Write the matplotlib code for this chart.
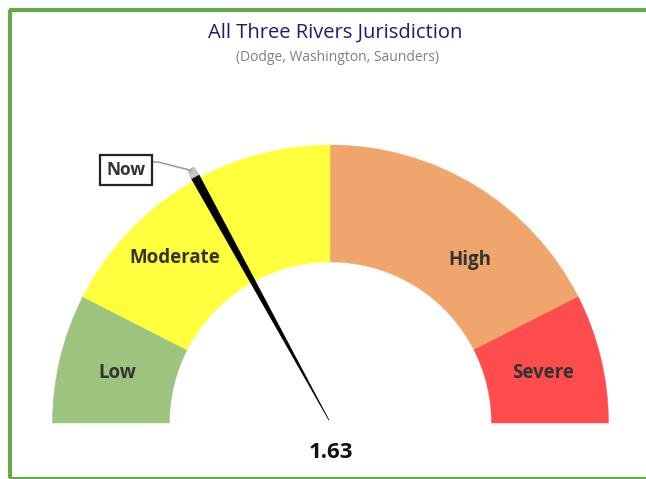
import numpy as np
import matplotlib
matplotlib.use("Agg")
import matplotlib.pyplot as plt
from matplotlib.patches import Wedge, Polygon

# gauge data
categories = ["Low", "Moderate", "High", "Severe"]
band_share = [0.15, 0.35, 0.35, 0.15]          # share of the half circle
band_edges = [0.0, 1.0, 2.16, 3.32, 4.32]       # value thresholds
band_colors = ["#9cc47f", "#ffff3d", "#f0a56c", "#ff4d4d"]
current_value = 1.63

title = "All Three Rivers Jurisdiction"
subtitle = "(Dodge, Washington, Saunders)"

W, H = 646, 479
fig = plt.figure(figsize=(W / 100, H / 100), dpi=100)
ax = fig.add_axes([0, 0, 1, 1])
ax.set_xlim(0, W)
ax.set_ylim(0, H)
ax.axis("off")

plt.rcParams['font.family'] = ['Open Sans', 'DejaVu Sans']

cx, cy = 330.5, H - 423
R, r = 278, 161

# band wedges, drawn from left (180 deg) to right (0 deg)
start = 180.0
label_pos = [(117, 373), (175, 258), (470, 260), (543, 373)]
for cat, share, col, (lx, ly) in zip(categories, band_share, band_colors, label_pos):
    span = share * 180
    ax.add_patch(Wedge((cx, cy), R, start - span, start, width=R - r,
                       facecolor=col, edgecolor=col, lw=0.3))
    ax.text(lx, H - ly, cat, ha="center", va="center", fontsize=13.5,
            fontweight="bold", color="#333333")
    start -= span

# needle angle: piecewise through the bands
ang = 180.0
for i in range(len(categories)):
    lo, hi = band_edges[i], band_edges[i + 1]
    span = band_share[i] * 180
    if current_value >= hi:
        ang -= span
    else:
        ang -= span * (current_value - lo) / (hi - lo)
        break
th = np.radians(ang)
u = np.array([np.cos(th), np.sin(th)])
n = np.array([-np.sin(th), np.cos(th)])
c = np.array([cx, cy])
needle = [c + 3 * u, c + 281 * u + 4.2 * n, c + 281 * u - 4.2 * n]
ax.add_patch(Polygon(needle, closed=True, facecolor="black", edgecolor="black", lw=0.5))
cap = [c + 281 * u + 4.2 * n, c + 290 * u + 3.2 * n,
       c + 290 * u - 3.2 * n, c + 281 * u - 4.2 * n]
ax.add_patch(Polygon(cap, closed=True, facecolor="#c4c4c4", edgecolor="#aaaaaa", lw=0.5))

# "Now" callout
tip = c + 288 * u
ax.plot([152, 158, tip[0]], [H - 162, H - 162, tip[1]], color="#a0a0a0", lw=1.2)
ax.text(126, H - 170, "Now", ha="center", va="center", fontsize=12.5,
        fontweight="bold", color="#333333",
        bbox=dict(boxstyle="square,pad=0.35", facecolor="white",
                  edgecolor="#222222", lw=1.6))

# value
ax.text(cx, H - 452, f"{current_value:.2f}", ha="center", va="center",
        fontsize=16, fontweight="bold", color="#111111")

# titles
ax.text(335, H - 33, title, ha="center", va="center", fontsize=14.5, color="#1c1c78")
ax.text(337, H - 57, subtitle, ha="center", va="center", fontsize=10, color="#808080")

# green frame
ax.plot([10, 10], [H - 10, 1], color="#6aa84f", lw=3, solid_capstyle="butt")
ax.plot([8.5, W], [H - 10, H - 10], color="#6aa84f", lw=3, solid_capstyle="butt")
ax.plot([8.5, W], [1, 1], color="#6aa84f", lw=1.5, solid_capstyle="butt")

fig.savefig("out.png", dpi=100)
